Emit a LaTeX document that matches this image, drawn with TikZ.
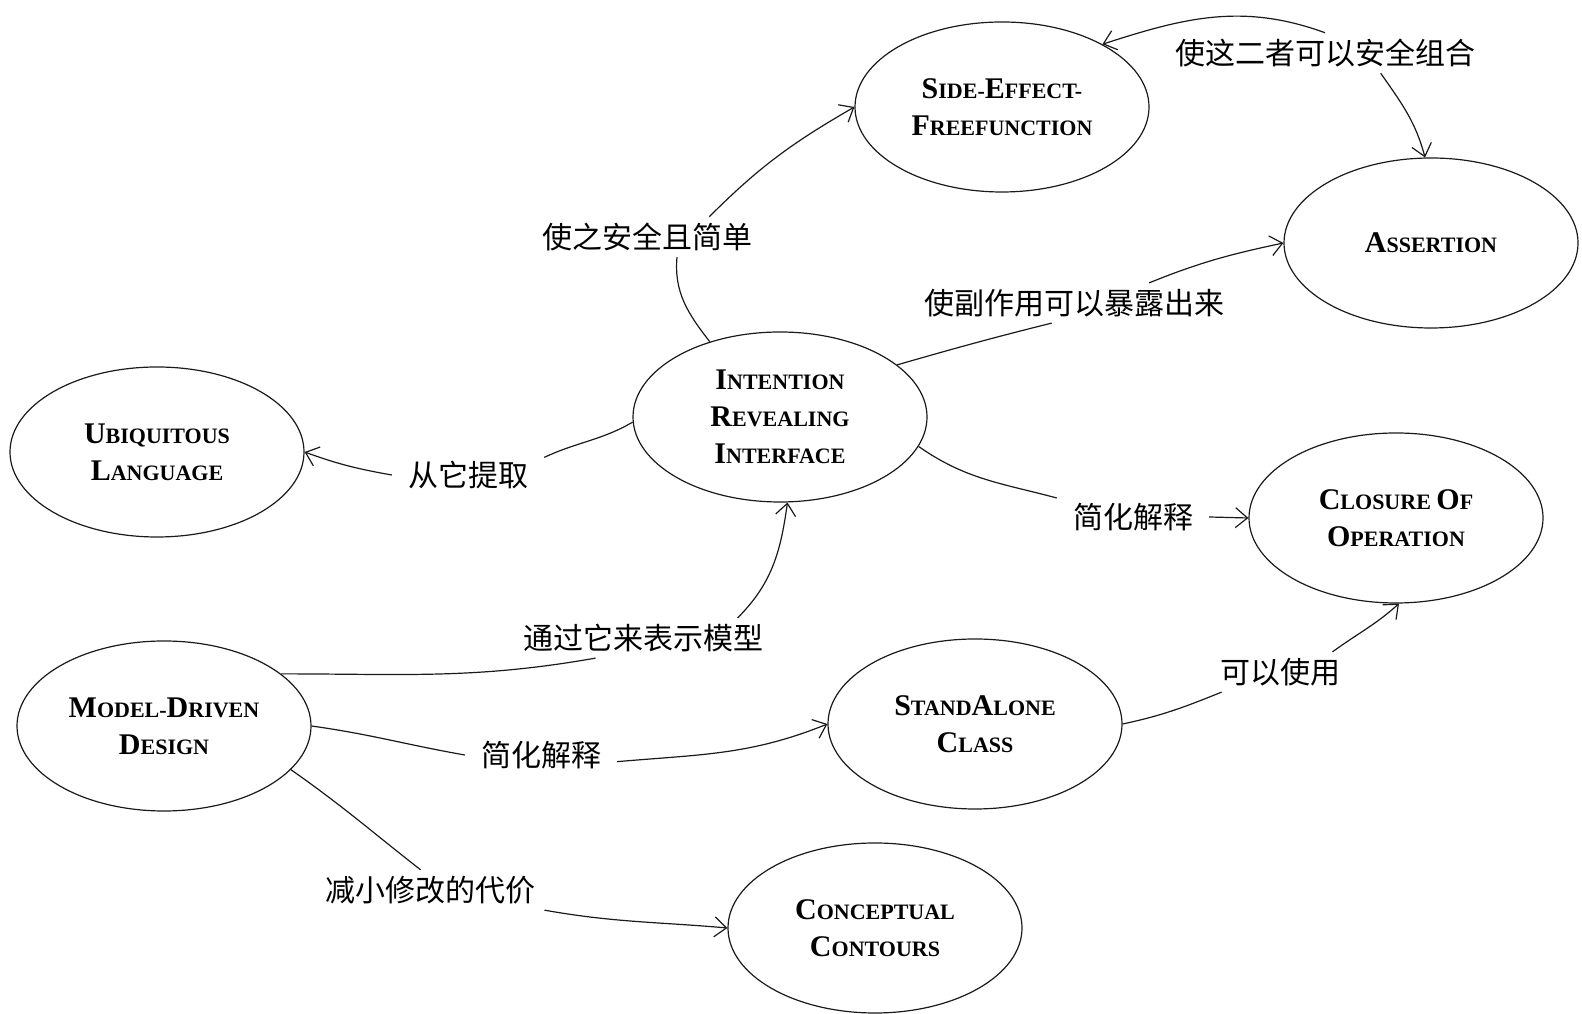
\documentclass[tikz,border=0pt]{standalone}
\usepackage{fontspec}
\usepackage{xcolor}
\usepackage{tikz}
\usetikzlibrary{shapes.geometric, arrows.meta}
\setmainfont{Liberation Serif}
\newfontfamily\cjk{Noto Sans CJK SC}
\definecolor{inkline}{HTML}{1A1A1A}
\newcommand{\scw}[2]{{\fontsize{30}{37}\selectfont #1}{\fontsize{22}{37}\selectfont #2}}
\tikzset{
  concept/.style={
    ellipse, draw=inkline, line width=1.2pt,
    minimum width=294pt, minimum height=170pt, inner sep=0pt,
    text centered, align=center, font=\bfseries\fontsize{22}{37}\selectfont,
  },
  relation/.style={
    inner xsep=16pt, inner ysep=6pt,
    font=\cjk\fontsize{30}{36}\selectfont,
  },
  link/.style={line width=1.2pt, color=inkline},
  arrow/.style={link, -{Straight Barb[length=12pt, width=20pt]}},
}

\begin{document}
\begin{tikzpicture}[x=1pt, y=1pt]

  \useasboundingbox (0,0) rectangle (1582,1014);

  \node[concept] (sef) at (1002,907) {\scw{S}{IDE-}\scw{E}{FFECT-}\\\scw{F}{REEFUNCTION}};
  \node[concept] (assert) at (1431,771) {\scw{A}{SSERTION}};
  \node[concept] (iri) at (780,597) {\scw{I}{NTENTION}\\\scw{R}{EVEALING}\\\scw{I}{NTERFACE}};
  \node[concept] (ubi) at (157,562) {\scw{U}{BIQUITOUS}\\\scw{L}{ANGUAGE}};
  \node[concept] (coo) at (1396,496) {\scw{C}{LOSURE} \scw{O}{F}\\\scw{O}{PERATION}};
  \node[concept] (mdd) at (164,288) {\scw{M}{ODEL-}\scw{D}{RIVEN}\\\scw{D}{ESIGN}};
  \node[concept] (sac) at (975,290) {\scw{S}{TAND}\scw{A}{LONE}\\\scw{C}{LASS}};
  \node[concept] (cc) at (875,86) {\scw{C}{ONCEPTUAL}\\\scw{C}{ONTOURS}};

  \node[relation] (lSafe) at (647,777) {使之安全且简单};
  \node[relation] (lCombine) at (1325,961) {使这二者可以安全组合};
  \node[relation] (lExpose) at (1074,711) {使副作用可以暴露出来};
  \node[relation] (lExtract) at (468,539) {从它提取};
  \node[relation] (lSimpA) at (1133,497) {简化解释};
  \node[relation] (lExpress) at (643,376) {通过它来表示模型};
  \node[relation] (lSimpB) at (541,259) {简化解释};
  \node[relation] (lUse) at (1280,342) {可以使用};
  \node[relation] (lCost) at (430,124) {减小修改的代价};

  \draw[link] (iri.133) to[out=128, in=-95] (lSafe.-34);
  \draw[arrow] (lSafe.18) to[out=45, in=-150] (sef.west);
  \draw[arrow] (lCombine.north) to[out=160, in=18] (sef.32);
  \draw[arrow] (lCombine.-20) to[out=-55, in=105] (assert.94);
  \draw[link] (iri.24) to[out=16, in=-166] (lExpose.222);
  \draw[arrow] (lExpose.15) to[out=22, in=-168] (assert.west);
  \draw[link] (iri.182) to[out=-150, in=25] (lExtract.13);
  \draw[arrow] (lExtract.west) to[out=170, in=-20] (ubi.east);
  \draw[link] (iri.-12) to[out=-35, in=165] (lSimpA.166);
  \draw[arrow] (lSimpA.east) -- (coo.west);
  \draw[link] (mdd.24) to[out=0, in=-170] (lExpress.203);
  \draw[arrow] (lExpress.12) to[out=45, in=-98] (iri.-85);
  \draw[link] (mdd.east) to[out=-8, in=170] (lSimpB.west);
  \draw[arrow] (lSimpB.-5) to[out=5, in=-158] (sac.west);
  \draw[link] (sac.east) to[out=12, in=-158] (lUse.199);
  \draw[arrow] (lUse.21) to[out=36, in=-138] (coo.-88);
  \draw[link] (mdd.-19) to[out=-35, in=142] (lCost.115);
  \draw[arrow] (lCost.-10) to[out=-10, in=175] (cc.west);

\end{tikzpicture}
\end{document}
